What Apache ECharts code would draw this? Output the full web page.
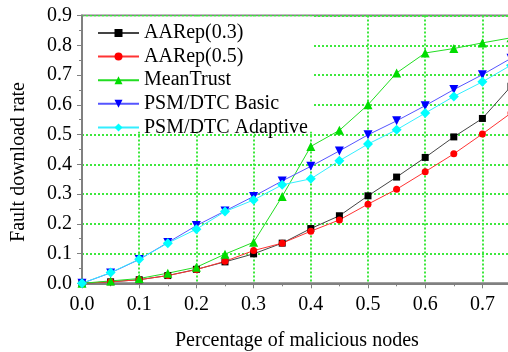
<!DOCTYPE html>
<html>
<head>
<meta charset="utf-8">
<script src="https://cdn.jsdelivr.net/npm/echarts@6/dist/echarts.min.js"></script>
<style>html,body{margin:0;padding:0;background:#fff;}#c{width:508px;height:352px;}</style>
</head>
<body>
<div id="c"></div>
<script>
const xValues = [0.0, 0.05, 0.1, 0.15, 0.2, 0.25, 0.3, 0.35, 0.4, 0.45, 0.5, 0.55, 0.6, 0.65, 0.7, 0.75];
const aarep03 = [0.0, 0.005, 0.012, 0.026, 0.047, 0.072, 0.099, 0.135, 0.184, 0.227, 0.294, 0.357, 0.423, 0.492, 0.554, 0.662];
const aarep05 = [0.0, 0.005, 0.012, 0.026, 0.046, 0.074, 0.110, 0.135, 0.175, 0.213, 0.266, 0.316, 0.375, 0.435, 0.502, 0.572];
const meanTrust = [0.0, 0.008, 0.016, 0.034, 0.054, 0.098, 0.138, 0.292, 0.460, 0.514, 0.600, 0.707, 0.774, 0.789, 0.808, 0.825];
const psmBasic = [0.0, 0.035, 0.080, 0.137, 0.194, 0.243, 0.292, 0.344, 0.393, 0.445, 0.499, 0.546, 0.597, 0.651, 0.701, 0.756];
const psmAdaptive = [0.0, 0.036, 0.081, 0.135, 0.182, 0.241, 0.280, 0.331, 0.351, 0.412, 0.468, 0.516, 0.572, 0.628, 0.677, 0.733];
const seriesNames = ['AARep(0.3)', 'AARep(0.5)', 'MeanTrust', 'PSM/DTC Basic', 'PSM/DTC Adaptive'];
const yAxisTitle = 'Fault download rate';
const xAxisTitle = 'Percentage of malicious nodes';

const FONT = '"Liberation Serif", "Times New Roman", serif';
const pair = arr => xValues.map((x, i) => [x, arr[i]]);
const mk = (name, data, color, lineColor, symbol, size, rotate) => ({
  name, type: 'line', data: pair(data), symbol, symbolSize: size, symbolRotate: rotate || 0,
  itemStyle: { color: color }, lineStyle: { color: lineColor, width: 1 },
  emphasis: { disabled: true }, animation: false, clip: true
});

const chart = echarts.init(document.getElementById('c'), null, { renderer: 'canvas' });
chart.setOption({
  backgroundColor: '#ffffff',
  animation: false,
  grid: { left: 82, top: 15.5, bottom: 68.7, right: -146, outerBoundsMode: 'none', show: true, borderColor: '#808080', borderWidth: 2, backgroundColor: 'transparent' },
  xAxis: {
    type: 'value', min: 0, max: 1.0, interval: 0.1,
    axisLine: { show: true, lineStyle: { color: '#808080', width: 2 } },
    axisTick: { show: true, length: 5, inside: false, lineStyle: { color: '#808080', width: 1 } },
    minorTick: { show: true, splitNumber: 2, length: 3, lineStyle: { color: '#808080', width: 1 } },
    axisLabel: { color: '#000', fontFamily: FONT, fontSize: 20, margin: 11, formatter: v => v.toFixed(1) },
    splitLine: { show: true, lineStyle: { color: '#3de83d', width: 2, type: [2, 2] } }
  },
  yAxis: {
    type: 'value', min: 0, max: 0.9, interval: 0.1,
    axisLine: { show: true, lineStyle: { color: '#808080', width: 2 } },
    axisTick: { show: true, length: 5, inside: false, lineStyle: { color: '#808080', width: 1 } },
    minorTick: { show: true, splitNumber: 2, length: 3, lineStyle: { color: '#808080', width: 1 } },
    axisLabel: { color: '#000', fontFamily: FONT, fontSize: 20, margin: 10, formatter: v => v.toFixed(1) },
    splitLine: { show: true, lineStyle: { color: '#3de83d', width: 2, type: [2, 2] } }
  },
  legend: {
    orient: 'vertical', left: 84, top: 17, padding: [6, 4, 0, 13],
    itemWidth: 41, itemHeight: 10, itemGap: 3.6,
    textStyle: { fontFamily: FONT, fontSize: 20, color: '#000' },
    data: seriesNames, selectedMode: false, backgroundColor: 'transparent'
  },
  series: [
    mk(seriesNames[0], aarep03, '#000000', '#444444', 'rect', 7),
    mk(seriesNames[1], aarep05, '#ff0000', '#ff3333', 'circle', 7),
    mk(seriesNames[2], meanTrust, '#00dd00', '#22dd22', 'triangle', 9),
    mk(seriesNames[3], psmBasic, '#0000ff', '#5555ff', 'triangle', 9, 180),
    mk(seriesNames[4], psmAdaptive, '#00ffff', '#33eeff', 'diamond', 10)
  ],
  graphic: [
    { type: 'rect', z: 1, silent: true, shape: { x: 83, y: 16.5, width: 231, height: 115 }, style: { fill: '#ffffff' } },
    { type: 'text', x: 19, y: 162, rotation: Math.PI / 2, style: { text: yAxisTitle, font: '20px "Liberation Serif"', fill: '#000', align: 'center', verticalAlign: 'middle' } },
    { type: 'text', x: 175, y: 341, style: { text: xAxisTitle, font: '20px "Liberation Serif"', fill: '#000', align: 'left', verticalAlign: 'middle' } }
  ]
});
</script>
</body>
</html>
